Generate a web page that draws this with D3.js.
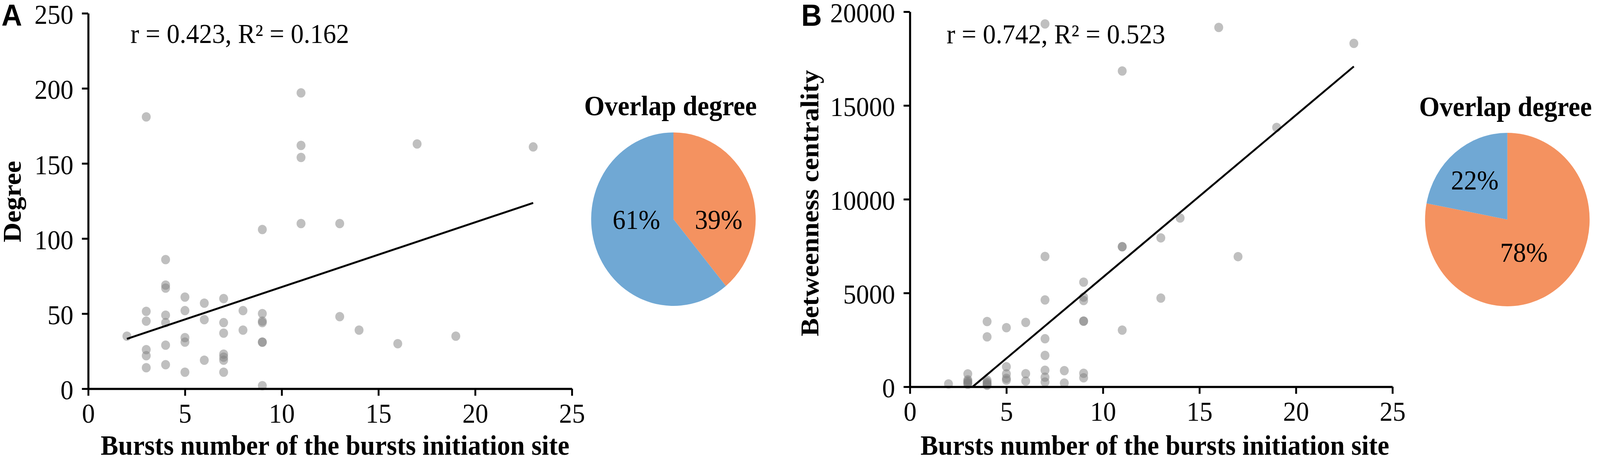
<!DOCTYPE html>
<html>
<head>
<meta charset="utf-8">
<script src="https://cdn.jsdelivr.net/npm/d3@7"></script>
<style>
html, body { margin: 0; padding: 0; width: 100%; height: 100%; overflow: hidden; background: #ffffff; }
#chart { width: 100%; height: 100%; }
</style>
</head>
<body>
<div id="chart"></div>
<script>
//////////
// data //
//////////

var burstTicks = [0, 5, 10, 15, 20, 25];
var degreeTicks = [0, 50, 100, 150, 200, 250];
var betweenTicks = [0, 5000, 10000, 15000, 20000];

// panel A: bursts number vs degree
var degreeBursts = [2, 3, 3, 3, 3, 3, 3, 4, 4, 4, 4, 4, 4, 4, 5, 5, 5, 5, 5, 6, 6, 6,
	7, 7, 7, 7, 7, 7, 7, 8, 8, 9, 9, 9, 9, 9, 9, 9, 11, 11, 11, 11, 13, 13, 14, 16, 17, 19, 23];
var degreeValues = [35, 181, 51.5, 45, 26, 22, 14, 86, 69, 67, 49, 44, 29, 16, 61, 52, 34, 31, 11, 57, 46, 19,
	60, 44, 37, 23, 21, 19, 11, 52, 39, 106, 50, 45, 44, 31, 31, 2, 197, 162, 154, 110, 110, 48, 39, 30, 163, 35, 161];

// panel B: bursts number vs betweenness centrality
var betweenBursts = [2, 3, 3, 3, 3, 3, 3, 4, 4, 4, 4, 4, 4, 4, 5, 5, 5, 5, 5, 6, 6, 6,
	7, 7, 7, 7, 7, 7, 7, 7, 8, 8, 9, 9, 9, 9, 9, 9, 9, 11, 11, 11, 11, 13, 13, 14, 16, 17, 19, 23];
var betweenValues = [150, 690, 370, 300, 240, 180, 130, 3480, 2660, 350, 250, 180, 120, 80, 3150, 1070, 690, 450, 350, 3430, 700, 300,
	19350, 6950, 4630, 2560, 1670, 880, 510, 250, 860, 200, 5580, 4780, 4600, 3500, 3500, 720, 480,
	16840, 7470, 7470, 3020, 7940, 4730, 9000, 19160, 6940, 13830, 18310];

// linear trend lines [intercept, slope], over the bursts range
var degreeFit = [24.6, 4.31];
var betweenFit = [-2810, 864.8];
var fitRange = [2, 23];

var degreeStats = 'r = 0.423, R\u00B2 = 0.162';
var betweenStats = 'r = 0.742, R\u00B2 = 0.523';

// overlap degree pies, orange slice first (clockwise from 12 o'clock)
var degreeShares = [39, 61];
var betweenShares = [78, 22];
var pieColors = ['#F49260', '#70A8D4'];

///////////////
// constants //
///////////////

const chartWidth = 4317;
const chartHeight = 1180;
const serif = '"Liberation Serif", "Times New Roman", serif';
const sans = '"Liberation Sans", Arial, sans-serif';
const pieRadius = 222;

var panels = [
	{
		letter: 'A', letterX: 4,
		xRange: [238, 1543], yRange: [995, 34], yMax: 250, yTicks: degreeTicks,
		xs: degreeBursts, ys: degreeValues, fit: degreeFit,
		stats: degreeStats, statsX: 352, statsY: 110,
		yTitle: 'Degree', yTitleX: 56, yTitleY: 516, xTitleX: 904,
		pieX: 1817, pieY: 561, pieTitleX: 1809, pieTitleY: 295,
		shares: degreeShares, labelAngles: [90, 270], labelRadii: [122, 100]
	},
	{
		letter: 'B', letterX: 2162,
		xRange: [2455, 3757], yRange: [990, 30], yMax: 20000, yTicks: betweenTicks,
		xs: betweenBursts, ys: betweenValues, fit: betweenFit,
		stats: betweenStats, statsX: 2554, statsY: 111,
		yTitle: 'Betweenness centrality', yTitleX: 2208, yTitleY: 520, xTitleX: 3116,
		pieX: 4067, pieY: 562, pieTitleX: 4062, pieTitleY: 297,
		shares: betweenShares, labelAngles: [152, 319], labelRadii: [95, 134]
	}
];

var svg;

////////////////
// draw image //
////////////////

setUpImage();
panels.forEach(drawPanel);

///////////////
// functions //
///////////////

function setUpImage() {
	// fit the drawing to whatever the viewport turns out to be
	svg = d3.select('#chart').append('svg')
		.attr('viewBox', '0 0 ' + chartWidth + ' ' + chartHeight)
		.attr('preserveAspectRatio', 'none')
		.style('display', 'block')
		.style('width', '100%')
		.style('height', '100%');

	svg.append('rect')
		.attr('width', chartWidth)
		.attr('height', chartHeight)
		.attr('fill', '#ffffff');
}

function drawPanel(p) {
	var xScale = d3.scaleLinear().domain([0, 25]).range(p.xRange);
	var yScale = d3.scaleLinear().domain([0, p.yMax]).range(p.yRange);

	// scatter points (semi transparent, overlaps get darker)
	svg.append('g')
		.selectAll('circle')
		.data(d3.zip(p.xs, p.ys))
		.join('circle')
		.attr('cx', function(d) { return xScale(d[0]); })
		.attr('cy', function(d) { return yScale(d[1]); })
		.attr('r', 12)
		.attr('fill', '#7f7f7f')
		.attr('fill-opacity', 0.5);

	// trend line, cut where it would go below zero
	var a = p.fit[0], b = p.fit[1];
	var x0 = fitRange[0];
	if (a + b * x0 < 0) x0 = -a / b;
	var x1 = fitRange[1];
	svg.append('path')
		.attr('d', d3.line()([[xScale(x0), yScale(a + b * x0)], [xScale(x1), yScale(a + b * x1)]]))
		.attr('stroke', '#000')
		.attr('stroke-width', 5)
		.attr('fill', 'none');

	// axes
	var xAxis = svg.append('g')
		.attr('transform', 'translate(0,' + p.yRange[0] + ')')
		.call(d3.axisBottom(xScale).tickValues(burstTicks).tickFormat(d3.format('d'))
			.tickSize(18).tickPadding(19).tickSizeOuter(0));
	var yAxis = svg.append('g')
		.attr('transform', 'translate(' + p.xRange[0] + ',0)')
		.call(d3.axisLeft(yScale).tickValues(p.yTicks).tickFormat(d3.format('d'))
			.tickSize(17).tickPadding(23).tickSizeOuter(0));

	[xAxis, yAxis].forEach(function(ax) {
		ax.select('.domain').attr('stroke', '#000').attr('stroke-width', 5.5);
		ax.selectAll('.tick line').attr('stroke', '#000').attr('stroke-width', 5);
		ax.selectAll('.tick text')
			.attr('fill', '#000')
			.style('font-family', serif)
			.style('font-size', '70px');
	});
	yAxis.selectAll('.tick text').attr('dy', '0.38em');

	// axis titles
	svg.append('text')
		.attr('x', p.xTitleX)
		.attr('y', 1164)
		.attr('text-anchor', 'middle')
		.style('font-family', serif)
		.style('font-weight', 'bold')
		.style('font-size', '71px')
		.text('Bursts number of the bursts initiation site');

	svg.append('text')
		.attr('transform', 'translate(' + p.yTitleX + ',' + p.yTitleY + ') rotate(-90)')
		.attr('text-anchor', 'middle')
		.style('font-family', serif)
		.style('font-weight', 'bold')
		.style('font-size', '70px')
		.text(p.yTitle);

	// panel letter
	svg.append('text')
		.attr('x', p.letterX)
		.attr('y', 66)
		.style('font-family', sans)
		.style('font-weight', 'bold')
		.style('font-size', '77px')
		.text(p.letter);

	// correlation text
	svg.append('text')
		.attr('x', p.statsX)
		.attr('y', p.statsY)
		.style('font-family', serif)
		.style('font-size', '70px')
		.text(p.stats);

	drawPie(p);
}

function drawPie(p) {
	var arcs = d3.pie().sort(null).value(function(d) { return d; })(p.shares);
	var arc = d3.arc().innerRadius(0).outerRadius(pieRadius);

	var g = svg.append('g')
		.attr('transform', 'translate(' + p.pieX + ',' + p.pieY + ')');

	g.selectAll('path')
		.data(arcs)
		.join('path')
		.attr('d', arc)
		.attr('fill', function(d, i) { return pieColors[i]; });

	g.selectAll('text.pct')
		.data(arcs)
		.join('text')
		.attr('class', 'pct')
		.attr('x', function(d, i) { return p.labelRadii[i] * Math.sin(p.labelAngles[i] * Math.PI / 180); })
		.attr('y', function(d, i) { return -p.labelRadii[i] * Math.cos(p.labelAngles[i] * Math.PI / 180); })
		.attr('dy', '0.35em')
		.attr('text-anchor', 'middle')
		.style('font-family', serif)
		.style('font-size', '70px')
		.text(function(d) { return d.data + '%'; });

	svg.append('text')
		.attr('x', p.pieTitleX)
		.attr('y', p.pieTitleY)
		.attr('text-anchor', 'middle')
		.style('font-family', serif)
		.style('font-weight', 'bold')
		.style('font-size', '71px')
		.text('Overlap degree');
}
</script>
</body>
</html>
